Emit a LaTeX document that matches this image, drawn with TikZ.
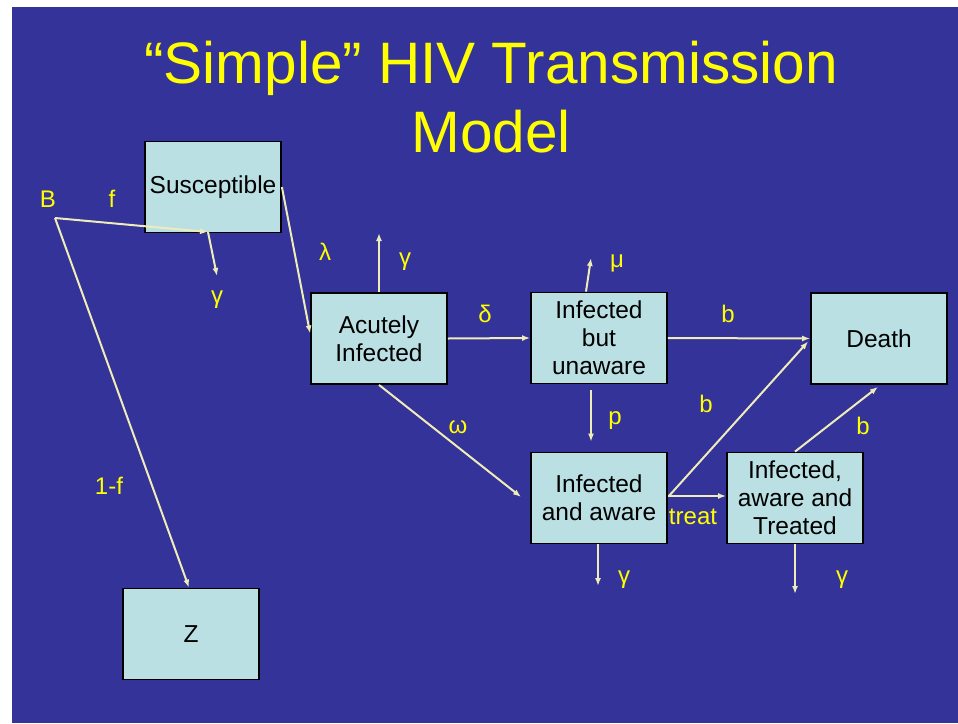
\documentclass[tikz,border=0pt]{standalone}
\usepackage{fontspec}
\setmainfont{Liberation Sans}
\usetikzlibrary{arrows.meta,calc}
\definecolor{slidebg}{RGB}{51,51,153}
\definecolor{boxfill}{RGB}{186,224,228}
\definecolor{flow}{RGB}{240,236,184}
\definecolor{lbl}{RGB}{255,255,0}
\begin{document}
\begin{tikzpicture}[x=1pt,y=-1pt,
  compartment/.style={draw=black,line width=1.8pt,fill=boxfill,
    minimum width=136pt,minimum height=91pt,inner sep=0pt,align=center,
    font=\fontsize{24.5}{28}\selectfont,text=black},
  rate/.style={text=lbl,font=\fontsize{24}{28}\selectfont,inner sep=0pt},
  flowline/.style={draw=flow,line width=2pt,-{Latex[length=8pt,width=6pt]}}]
% page and slide background
\fill[white] (0,0) rectangle (958,723);
\fill[slidebg] (12,7) rectangle (958,723);
\useasboundingbox (0,0) rectangle (958,723);

% title
\node[anchor=base,text=lbl,font=\fontsize{58.5}{69}\selectfont,inner sep=0pt] (title1) at (491,83) {“Simple” HIV Transmission};
\node[anchor=base,text=lbl,font=\fontsize{58.5}{69}\selectfont,inner sep=0pt] (title2) at (491,152) {Model};

% compartments
\node[compartment] (sus) at (213,187) {Susceptible};
\node[compartment] (acute) at (379,338.5) {Acutely\\Infected};
\node[compartment] (unaware) at (599,338) {Infected\\but\\unaware};
\node[compartment] (death) at (879,338.5) {Death};
\node[compartment] (aware) at (599,498) {Infected\\and aware};
\node[compartment] (treated) at (795,498) {Infected,\\aware and\\Treated};
\node[compartment] (Z) at (191,634) {Z};

% junctions and outflow ends
\coordinate (bsrc) at (55,218);
\coordinate (split) at (208,232);
\coordinate (outS) at (217,276);
\coordinate (outA) at (379,233);
\coordinate (outU) at (591,258);
\coordinate (outW) at (598,586);
\coordinate (outT) at (795,594);

% flows
\draw[flowline] (bsrc) -- (split);
\draw[flowline] (split) -- (outS);
\draw[flowline] (bsrc) -- ($(Z.north)+(-2,0)$);
\draw[flowline] (sus.east) -- ($(acute.west)+(0,-5)$);
\draw[flowline] (acute.north) -- (outA);
\draw[flowline] (acute.east) -- (unaware.west);
\draw[flowline] ($(unaware.north)+(-13,0)$) -- (outU);
\draw[flowline] (unaware.east) -- (death.west);
\draw[flowline] ($(unaware.south)+(-8,6)$) -- ($(aware.north)+(-8,-10)$);
\draw[flowline] (acute.south) -- ($(aware.west)+(-9,-1)$);
\draw[flowline] ($(aware.east)+(1,-2)$) -- ($(death.west)+(-2,3)$);
\draw[flowline] ($(aware.east)+(0,-2)$) -- ($(treated.west)+(0,-2)$);
\draw[flowline] (treated.north) -- ($(death.south)+(-1,2)$);
\draw[flowline] ($(aware.south)+(-1,0)$) -- (outW);
\draw[flowline] (treated.south) -- (outT);

% rate labels
\node[rate] (lB) at (48,199) {B};
\node[rate] (lf) at (112,199) {f};
\node[rate] (lgS) at (217,300) {γ};
\node[rate] (l1f) at (109,486) {1-f};
\node[rate] (llam) at (325,252) {λ};
\node[rate] (lgA) at (405,262) {γ};
\node[rate] (ldel) at (485,314) {δ};
\node[rate] (lmu) at (617,263) {μ};
\node[rate] (lb1) at (728,314) {b};
\node[rate] (lp) at (615,421) {p};
\node[rate] (lom) at (458,427) {ω};
\node[rate] (lb2) at (706,404) {b};
\node[rate] (lb3) at (863,426) {b};
\node[rate] (ltreat) at (693,517) {treat};
\node[rate] (lgW) at (624,580) {γ};
\node[rate] (lgT) at (842,580) {γ};
\end{tikzpicture}
\end{document}
